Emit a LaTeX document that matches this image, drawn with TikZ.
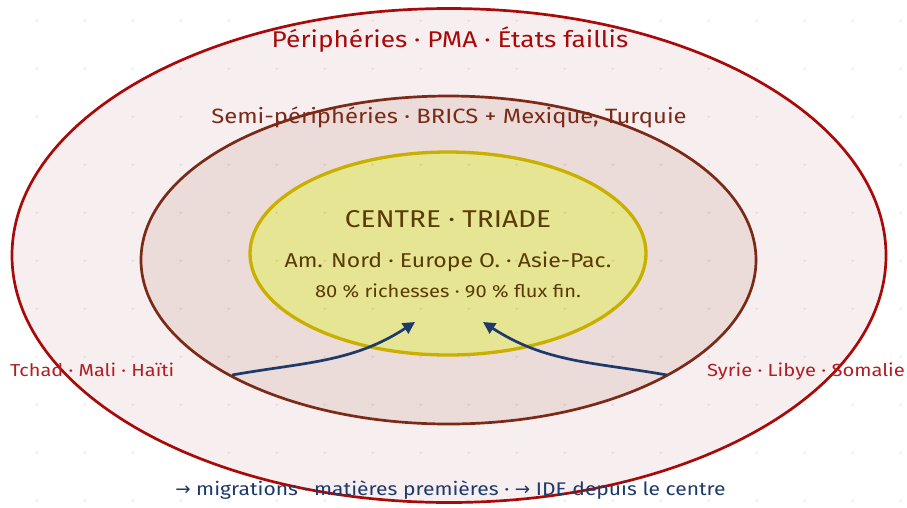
\documentclass[tikz,border=0pt]{standalone}
\usepackage{fontspec}
\setmainfont[FakeStretch=1.15]{Fira Sans}
\newfontfamily\symfont{DejaVu Sans}
\usetikzlibrary{arrows.meta}

\definecolor{outerline}{HTML}{A80A0A}
\definecolor{outerfill}{HTML}{F7EEEF}
\definecolor{midline}{HTML}{7B2A17}
\definecolor{midfill}{HTML}{EBDCDA}
\definecolor{coreline}{HTML}{C9B000}
\definecolor{corefill}{HTML}{E6E593}
\definecolor{coretext}{HTML}{5A3A05}
\definecolor{sidetext}{HTML}{B01E23}
\definecolor{flowcol}{HTML}{1E3A6A}

\tikzset{
  ring/.style={line width=2.7pt},
  flow/.style={line width=2.7pt, flowcol, -{Triangle[length=12pt,width=12pt]}},
  gridpt/.style={fill=black, opacity=0.07},
  label/.style={anchor=base, inner sep=0pt}
}

\begin{document}
\begin{tikzpicture}[x=1pt,y=-1pt]
    \useasboundingbox (0,0) rectangle (907,507);

    % Rings
    \draw [ring, outerline, fill=outerfill] (449,255.5) ellipse [x radius=437, y radius=247];
    \draw [ring, midline, fill=midfill] (448.5,260) ellipse [x radius=307.5, y radius=164];
    \draw [ring, coreline, fill=corefill, line width=3.3pt] (448,253.5) ellipse [x radius=198, y radius=101.5];

    % Dot grid
    \foreach \i in {0,...,18} {
      \foreach \j in {0,...,10} {
        \fill [gridpt] (36.7+48*\i,20.7+48*\j) circle [radius=1.5];
      }
    }

    % Ring titles
    \node [label, outerline, font=\fontsize{22.8}{26}\selectfont] (periph) at (450,47)
      {Périphéries · PMA · États faillis};
    \node [label, midline, font=\fontsize{20.7}{24}\selectfont] (semi) at (449,123)
      {Semi-périphéries · BRICS + Mexique, Turquie};

    % Centre
    \node [label, coretext, font=\fontsize{24.3}{28}\selectfont] (centre) at (448,227)
      {CENTRE · TRIADE};
    \node [label, coretext, font=\fontsize{20}{24}\selectfont] (triade) at (448,267)
      {Am. Nord · Europe O. · Asie-Pac.};
    \node [label, coretext, font=\fontsize{17.5}{21}\selectfont] (parts) at (448,297)
      {80 \% richesses · 90 \% flux fin.};

    % Side countries
    \node [label, anchor=base west, sidetext, font=\fontsize{17.3}{20}\selectfont] (west) at (10,376)
      {Tchad · Mali · Haïti};
    \node [label, anchor=base east, sidetext, font=\fontsize{17.5}{20}\selectfont] (east) at (905,376)
      {Syrie · Libye · Somalie};

    % Flows to the centre
    \coordinate (wfrom) at (232,375);
    \coordinate (wto) at (415,322);
    \coordinate (efrom) at (667,375);
    \coordinate (eto) at (483,322);
    \draw [flow] (wfrom) to [out=10,in=213] (wto);
    \draw [flow] (efrom) to [out=170,in=-33] (eto);

    % Legend
    \node [label, flowcol, font=\fontsize{18.3}{21}\selectfont] (legend) at (450.5,495)
      {{\symfont →} migrations · matières premières · {\symfont →} IDE depuis le centre};
\end{tikzpicture}
\end{document}
